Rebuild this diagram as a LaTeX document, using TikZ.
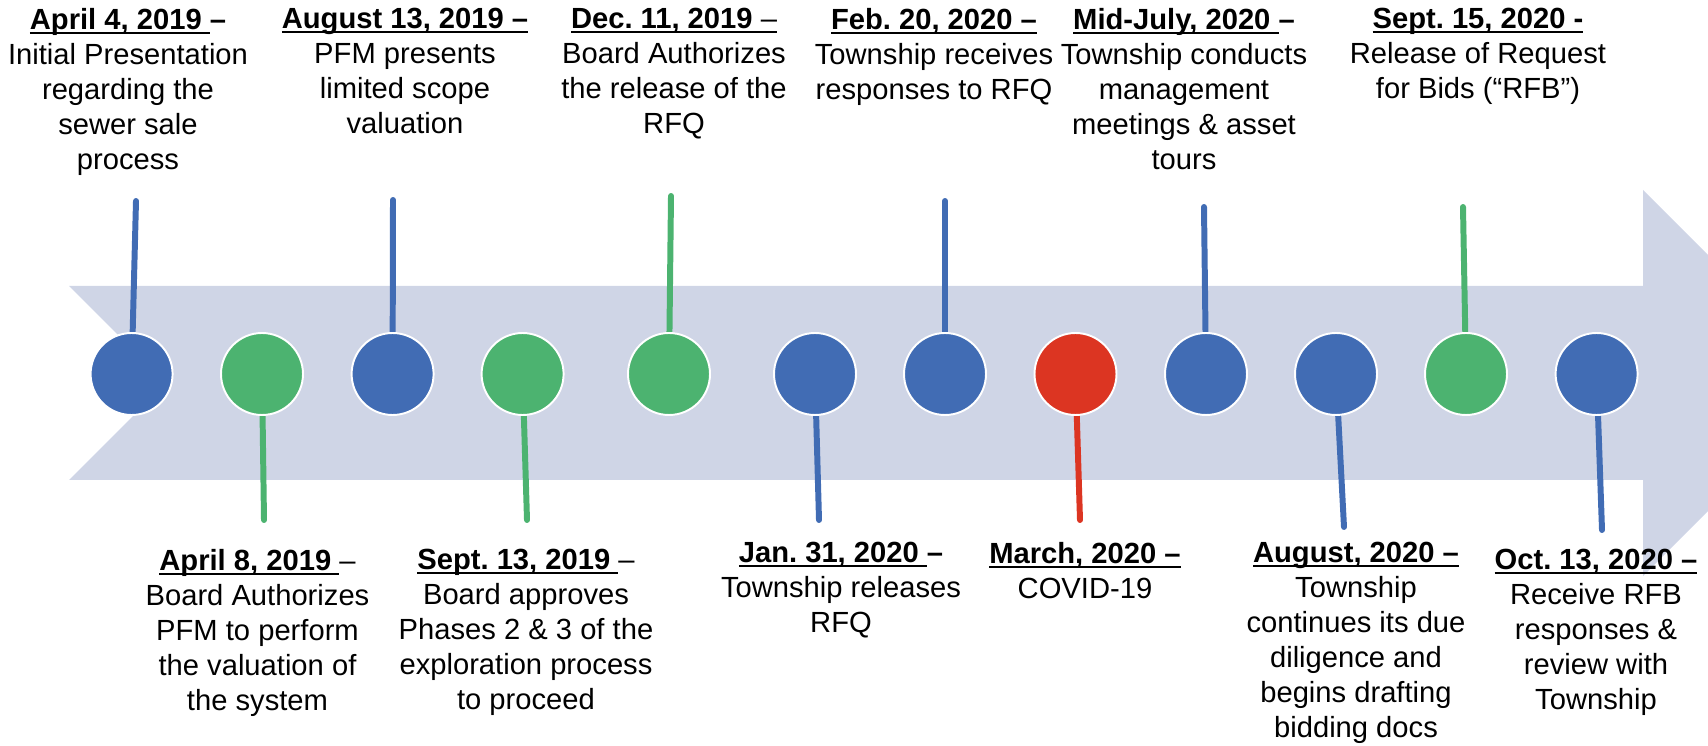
\documentclass[tikz,border=0pt]{standalone}
\usepackage{fontspec}
\setmainfont{Liberation Sans}
\usetikzlibrary{backgrounds}
\frenchspacing

\definecolor{bandgray}{RGB}{207,213,230}
\definecolor{evblue}{RGB}{65,108,180}
\definecolor{evgreen}{RGB}{76,179,112}
\definecolor{evred}{RGB}{220,53,34}

% bold date with a thin underline close to the baseline
\newcommand{\udate}[1]{\setbox0\hbox{\textbf{#1}}\rlap{\rule[-2.65pt]{\wd0}{1.1pt}}\box0}

\begin{document}
\begin{tikzpicture}[
  x=0.02cm, y=-0.02cm,
  dot/.style={circle, draw=white, line width=1.1pt, minimum size=1.64cm, inner sep=0pt},
  stem/.style={line width=3.4pt, line cap=round},
  eventtext/.style={anchor=north, align=center, inner sep=0pt,
    font=\fontsize{16.6}{19.9}\selectfont},
]
\path[use as bounding box, clip] (0,0) rectangle (1708,746);

% Milestones along the band
\node[dot, fill=evblue]  (c1)  at (131.6,374) {};
\node[dot, fill=evgreen] (c2)  at (262,374) {};
\node[dot, fill=evblue]  (c3)  at (392.6,374) {};
\node[dot, fill=evgreen] (c4)  at (522.6,374) {};
\node[dot, fill=evgreen] (c5)  at (669,374) {};
\node[dot, fill=evblue]  (c6)  at (815,374) {};
\node[dot, fill=evblue]  (c7)  at (945,374) {};
\node[dot, fill=evred]   (c8)  at (1075.5,374) {};
\node[dot, fill=evblue]  (c9)  at (1206,374) {};
\node[dot, fill=evblue]  (c10) at (1336,374) {};
\node[dot, fill=evgreen] (c11) at (1466,374) {};
\node[dot, fill=evblue]  (c12) at (1596.6,374) {};

% Free ends of the stems
\coordinate (s1)  at (136,201);
\coordinate (s2)  at (264,520);
\coordinate (s3)  at (393,200);
\coordinate (s4)  at (527,520);
\coordinate (s5)  at (671,196);
\coordinate (s6)  at (819,520);
\coordinate (s7)  at (945,201);
\coordinate (s8)  at (1080,520);
\coordinate (s9)  at (1204,207);
\coordinate (s10) at (1344,527);
\coordinate (s11) at (1463,207);
\coordinate (s12) at (1602,530);

\begin{scope}[on background layer]
  % Arrow band (notched tail, head past the right edge)
  \fill[bandgray] (69,286) -- (1643,286) -- (1643,190) -- (1836,383)
    -- (1643,576) -- (1643,480) -- (69,480) -- (166,383) -- cycle;
  % Stems: up for the upper events, down for the lower ones
  \draw[stem, evblue]  (c1) -- (s1);
  \draw[stem, evgreen] (c2) -- (s2);
  \draw[stem, evblue]  (c3) -- (s3);
  \draw[stem, evgreen] (c4) -- (s4);
  \draw[stem, evgreen] (c5) -- (s5);
  \draw[stem, evblue]  (c6) -- (s6);
  \draw[stem, evblue]  (c7) -- (s7);
  \draw[stem, evred]   (c8) -- (s8);
  \draw[stem, evblue]  (c9) -- (s9);
  \draw[stem, evblue]  (c10) -- (s10);
  \draw[stem, evgreen] (c11) -- (s11);
  \draw[stem, evblue]  (c12) -- (s12);
\end{scope}

% Upper texts
\node[eventtext] (t1) at (128,8) {\udate{April 4, 2019\ }\textbf{–}\\Initial Presentation\\regarding the\\sewer sale\\process};
\node[eventtext] (t3) at (405,8) {\udate{August 13, 2019 –}\\PFM presents\\limited scope\\valuation};
\node[eventtext] (t5) at (674,8) {\udate{Dec. 11, 2019 \textmd{–}}\\Board Authorizes\\the release of the\\RFQ};
\node[eventtext] (t7) at (934,8) {\udate{Feb. 20, 2020 –}\\Township receives\\responses to RFQ};
\node[eventtext] (t9) at (1184,8) {\udate{Mid-July, 2020\ }\textbf{–}\\Township conducts\\management\\meetings \& asset\\tours};
\node[eventtext] (t11) at (1478,8) {\udate{Sept. 15, 2020 -}\\Release of Request\\for Bids (“RFB”)};

% Lower texts
\node[eventtext] (t2) at (257.5,549) {\udate{April 8, 2019\ }–\\Board Authorizes\\PFM to perform\\the valuation of\\the system};
\node[eventtext] (t4) at (526,549) {\udate{Sept. 13, 2019\ }–\\Board approves\\Phases 2 \& 3 of the\\exploration process\\to proceed};
\node[eventtext] (t6) at (841,542) {\udate{Jan. 31, 2020\ }\textbf{–}\\Township releases\\RFQ};
\node[eventtext] (t8) at (1085,542) {\udate{March, 2020 –}\\COVID-19};
\node[eventtext] (t10) at (1356,542) {\udate{August, 2020 –}\\Township\\continues its due\\diligence and\\begins drafting\\bidding docs};
\node[eventtext] (t12) at (1596,549) {\udate{Oct. 13, 2020 –}\\Receive RFB\\responses \&\\review with\\Township};

\end{tikzpicture}
\end{document}
